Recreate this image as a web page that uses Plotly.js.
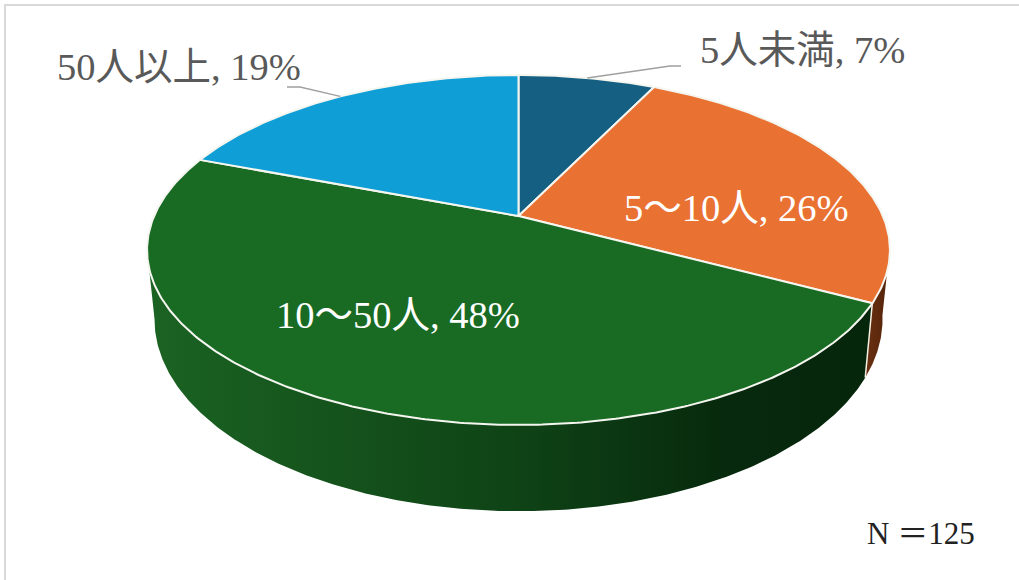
<!DOCTYPE html>
<html>
<head>
<meta charset="utf-8">
<script src="https://cdn.plot.ly/plotly-3.0.1.min.js"></script>
<style>html,body{margin:0;padding:0;background:#fff}#chart{width:1019px;height:580px}</style>
</head>
<body>
<div id="chart"></div>
<script>
// Respondents by size group; percentages on the labels are rounded from these counts
const categories = ['5人未満', '5～10人', '10～50人', '50人以上'];
const counts = [9, 32, 60, 24];
const topColors = ['#156082', '#E97132', '#196B24', '#0F9ED5'];
const sideScales = [
  null,
  [[0, '#6b3012'], [1, '#532309']],
  [[0, '#1b6323'], [0.5, '#0f4416'], [0.8, '#07290d'], [1, '#06260b']],
  null
];

// Perspective model of the disc: a unit circle seen from above and in front
const W = 1019, H = 580;
const centre = {x: 518.5, y: 216};
const radiusX = 364.4, radiusY = 168.4;
const tilt = 0.194;
const lower = {scaleX: 0.98, scaleY: 1.097, drop: 66 / radiusY};
const sideFrom = 100, sideTo = 259;   // degrees of rim that face the viewer

function project(deg, isLower) {
  const t = deg * Math.PI / 180, X = Math.sin(t), Y = -Math.cos(t);
  const w = 1 - tilt * Y;
  if (isLower) return [lower.scaleX * X / w, lower.drop + lower.scaleY * Y / w];
  return [X / w, Y / w];
}
function arc(a, b, isLower) {
  const n = Math.max(2, Math.ceil(Math.abs(b - a) * 2));
  const pts = [];
  for (let i = 0; i <= n; i++) pts.push(project(a + (b - a) * i / n, isLower));
  return pts;
}
const toX = px => (px - centre.x) / radiusX;
const toY = py => (py - centre.y) / radiusY;
const poly = pts => ({x: pts.map(p => p[0]), y: pts.map(p => p[1])});

const total = counts.reduce((s, v) => s + v, 0);
const percent = v => Math.round(v / total * 100);
let acc = 0;
const wedges = counts.map(v => {
  const a = acc / total * 360;
  acc += v;
  return {a, b: acc / total * 360};
});

const traces = [];

// Side wall of each wedge that faces the viewer
wedges.forEach((w, i) => {
  const a = Math.max(w.a, sideFrom), b = Math.min(w.b, sideTo);
  if (b <= a || !sideScales[i]) return;
  const pts = arc(a, b, false).concat(arc(b, a, true));
  pts.push(pts[0]);
  traces.push(Object.assign(poly(pts), {
    type: 'scatter', mode: 'lines', fill: 'toself', hoverinfo: 'skip',
    line: {width: 0},
    fillgradient: {type: 'horizontal', colorscale: sideScales[i]}
  }));
  // White seam where two walls meet
  if (a > sideFrom) {
    traces.push(Object.assign(poly([project(a, false), project(a, true)]), {
      type: 'scatter', mode: 'lines', hoverinfo: 'skip',
      line: {color: '#f4f1e6', width: 1.5}
    }));
  }
});

// Top face of each wedge
wedges.forEach((w, i) => {
  const pts = [[0, 0]].concat(arc(w.a, w.b, false));
  pts.push([0, 0]);
  traces.push(Object.assign(poly(pts), {
    type: 'scatter', mode: 'lines', fill: 'toself', fillcolor: topColors[i],
    line: {color: '#f6f6f0', width: 2}, name: categories[i],
    text: categories[i] + ', ' + percent(counts[i]) + '%', hoverinfo: 'text'
  }));
});

// Leader lines for the two labels set outside the disc
const leaderStyle = {color: '#a0a0a0', width: 1.4};
function leader(i, elbow, end) {
  const m = project((wedges[i].a + wedges[i].b) / 2, false);
  return {
    type: 'scatter', mode: 'lines', hoverinfo: 'skip', line: leaderStyle,
    x: [m[0], toX(elbow[0]), toX(end[0])],
    y: [m[1], toY(elbow[1]), toY(end[1])]
  };
}
traces.push(leader(0, [670, 66], [681, 66]));
traces.push(leader(3, [300, 87], [287, 87]));

const fontFamily = '"Liberation Serif","Noto Sans CJK JP",serif';
function label(i, px, py, color) {
  return {
    text: categories[i] + ', ' + percent(counts[i]) + '%',
    xref: 'paper', yref: 'paper', x: px / W, y: 1 - py / H,
    xanchor: 'center', yanchor: 'middle', showarrow: false,
    font: {family: fontFamily, size: 38.5, color}
  };
}

const layout = {
  width: W, height: H,
  margin: {l: 0, r: 0, t: 0, b: 0},
  paper_bgcolor: '#fff', plot_bgcolor: '#fff',
  showlegend: false,
  xaxis: {range: [toX(0), toX(W)], visible: false, fixedrange: true},
  yaxis: {range: [toY(H), toY(0)], visible: false, fixedrange: true},
  shapes: [{
    type: 'rect', xref: 'paper', yref: 'paper',
    x0: 5 / W, x1: 1.02, y0: -0.02, y1: 1 - 5 / H,
    line: {color: '#d9d9d9', width: 2}
  }],
  annotations: [
    label(0, 802, 50, '#595959'),
    label(1, 736, 208, '#ffffff'),
    label(2, 398, 315, '#ffffff'),
    label(3, 179, 67, '#595959'),
    {
      text: 'N ＝' + total, xref: 'paper', yref: 'paper',
      x: 921 / W, y: 1 - 533 / H, xanchor: 'center', yanchor: 'middle',
      showarrow: false, font: {family: fontFamily, size: 31, color: '#222222'}
    }
  ]
};

Plotly.newPlot('chart', traces, layout, {staticPlot: true, displayModeBar: false});
</script>
</body>
</html>
